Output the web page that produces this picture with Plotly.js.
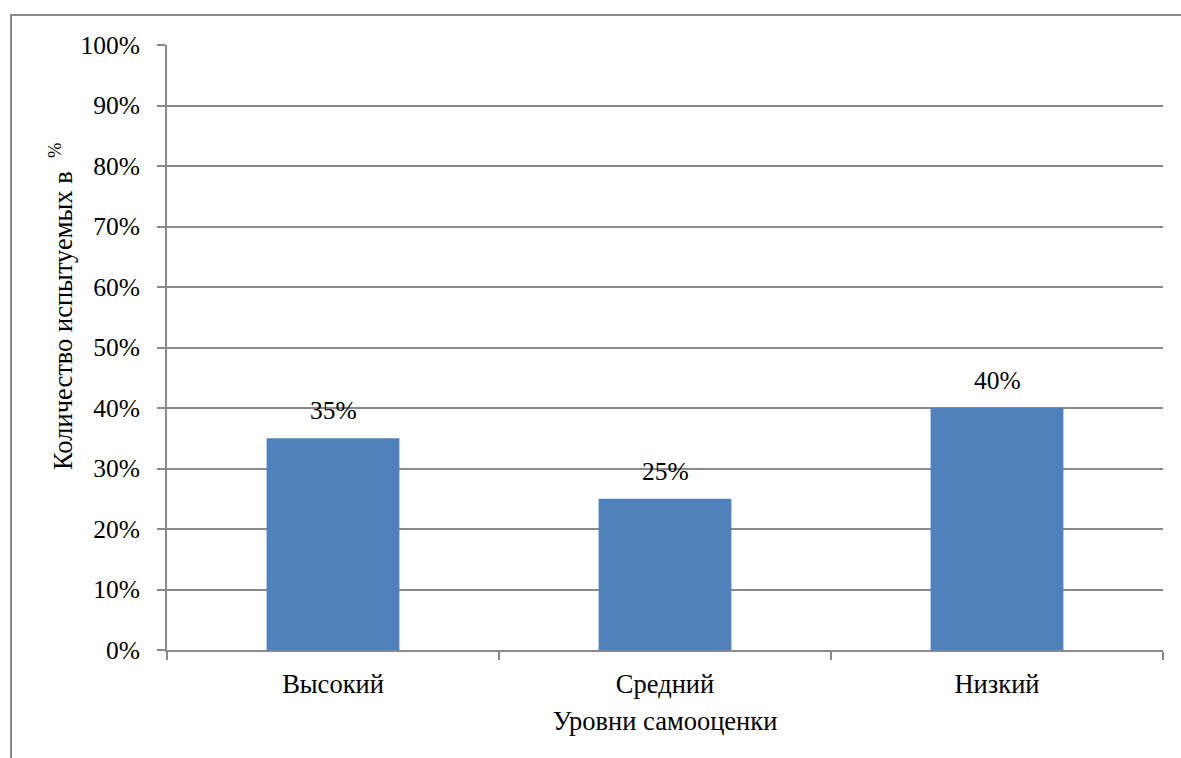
<!DOCTYPE html>
<html>
<head>
<meta charset="utf-8">
<script src="https://cdn.plot.ly/plotly-3.0.1.min.js"></script>
<style>
  html, body { margin: 0; padding: 0; background: #ffffff; }
  #chart { width: 1181px; height: 758px; }
</style>
</head>
<body>
<div id="chart"></div>
<script>
// Самооценка испытуемых: доля по уровням
const categories = ['Высокий', 'Средний', 'Низкий'];
const shares = [0.35, 0.25, 0.40];
const xTitle = 'Уровни самооценки';
const yTitle = 'Количество испытуемых в  <sup>%</sup>';

const W = 1181, H = 758;
const M = { l: 167, r: 18, t: 45, b: 108 };
const plotW = W - M.l - M.r;
const plotH = H - M.t - M.b;
const px = v => (v - M.l) / plotW;          // page x -> paper x
const py = v => (H - M.b - v) / plotH;      // page y -> paper y

const serif = 'Liberation Serif';
const numFont = { family: serif, color: '#000000', size: 25.5 };
const txtFont = { family: serif, color: '#000000', size: 26.5 };
const gridCol = '#8a8a8a';

const bars = {
  type: 'bar',
  x: categories,
  y: shares,
  width: 0.4,
  marker: { color: '#4F81BD', line: { width: 0 } },
  hoverinfo: 'skip'
};

const labels = categories.map((c, i) => ({
  x: c, y: shares[i], xref: 'x', yref: 'y',
  text: Math.round(shares[i] * 100) + '%',
  showarrow: false, yanchor: 'bottom', yshift: 11,
  font: numFont
}));

labels.push({
  xref: 'paper', yref: 'paper',
  x: px(61), y: py(307),
  text: yTitle, textangle: -90, showarrow: false,
  xanchor: 'center', yanchor: 'middle',
  font: txtFont
});

const layout = {
  width: W, height: H,
  margin: M,
  paper_bgcolor: '#ffffff',
  plot_bgcolor: '#ffffff',
  showlegend: false,
  font: numFont,
  bargap: 0.6,
  xaxis: {
    type: 'category',
    showgrid: false,
    showline: true, linecolor: gridCol, linewidth: 2,
    ticks: 'outside', tickson: 'boundaries', ticklen: 8, tickwidth: 2, tickcolor: gridCol,
    tickfont: txtFont,
    ticklabelstandoff: 9,
    title: { text: xTitle, font: txtFont, standoff: 14 },
    zeroline: false, fixedrange: true
  },
  yaxis: {
    range: [0, 1], dtick: 0.1, tick0: 0,
    tickformat: '.0%',
    showgrid: true, gridcolor: gridCol, gridwidth: 2,
    showline: true, linecolor: gridCol, linewidth: 2,
    ticks: 'outside', ticklen: 8, tickwidth: 2, tickcolor: gridCol,
    tickfont: numFont,
    ticklabelstandoff: 12,
    zeroline: false, fixedrange: true
  },
  annotations: labels,
  shapes: [{
    type: 'rect', xref: 'paper', yref: 'paper', layer: 'below',
    x0: px(11), x1: px(1195), y0: py(15), y1: py(770),
    line: { color: '#8a8a8a', width: 2 }, fillcolor: 'rgba(0,0,0,0)'
  }]
};

Plotly.newPlot('chart', [bars], layout, { displayModeBar: false, staticPlot: true });
</script>
</body>
</html>
